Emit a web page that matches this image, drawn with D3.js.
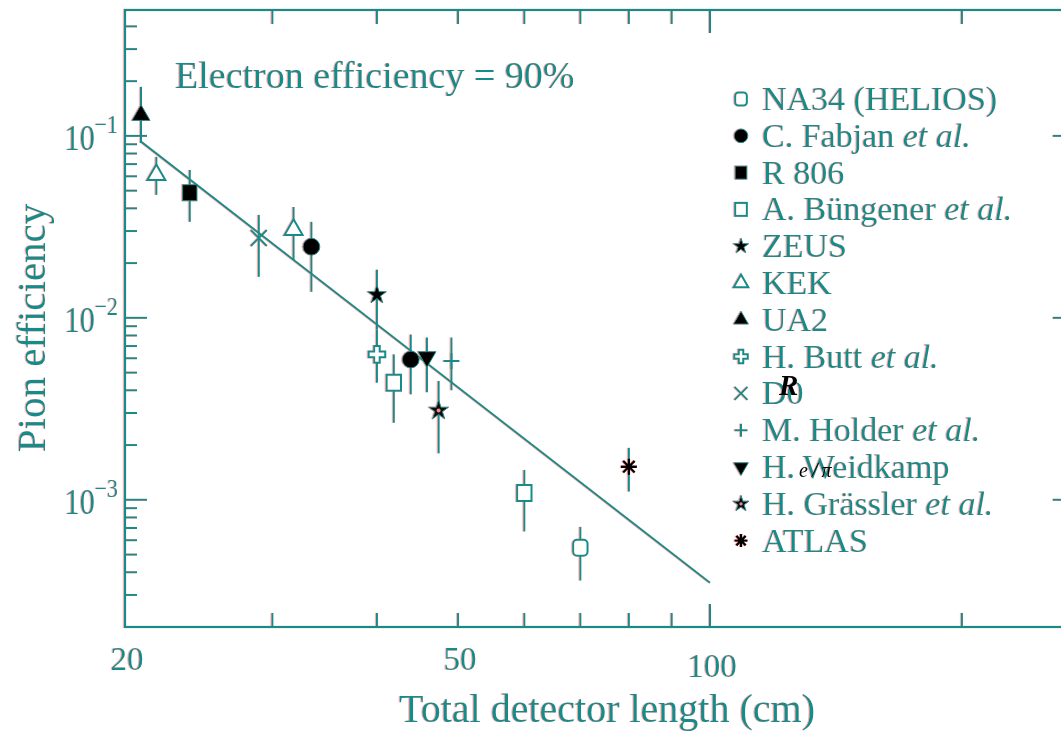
<!DOCTYPE html>
<html>
<head>
<meta charset="utf-8">
<script src="https://cdn.jsdelivr.net/npm/d3@7"></script>
<style>
  body { margin: 0; background: #fff; }
  svg { display: block; }
  text { font-family: "Liberation Serif", "DejaVu Serif", serif; }
</style>
</head>
<body>
<div id="chart"></div>
<script>
// experiments, in legend order
const experiments = ["NA34 (HELIOS)", "C. Fabjan", "R 806", "A. Büngener", "ZEUS", "KEK", "UA2",
  "H. Butt", "D0", "M. Holder", "H. Weidkamp", "H. Grässler", "ATLAS"];
const etAl = [false, true, false, true, false, false, false, true, false, true, false, true, false];

// measurements: experiment, total length (cm), pion efficiency, upper error end, lower error end
const measurements = [
  ["UA2", 20.9, 0.130, 0.186, 0.0915],
  ["KEK", 21.8, 0.0611, 0.0767, 0.0474],
  ["R 806", 23.9, 0.0487, 0.065, 0.0337],
  ["D0", 28.9, 0.0275, 0.0368, 0.0168],
  ["KEK", 31.8, 0.0305, 0.0407, 0.0208],
  ["C. Fabjan", 33.4, 0.0246, 0.0337, 0.0139],
  ["ZEUS", 40.0, 0.0134, 0.0184, 0.0086],
  ["H. Butt", 40.0, 0.0063, 0.0086, 0.0044],
  ["A. Büngener", 41.9, 0.0044, 0.0063, 0.00265],
  ["C. Fabjan", 43.9, 0.0059, 0.0081, 0.0038],
  ["H. Weidkamp", 45.9, 0.0061, 0.0078, 0.0039],
  ["H. Grässler", 47.4, 0.0031, 0.0045, 0.0018],
  ["M. Holder", 49.1, 0.0058, 0.0078, 0.0040],
  ["A. Büngener", 60.0, 0.00109, 0.00146, 0.00067],
  ["NA34 (HELIOS)", 70.0, 0.000545, 0.00071, 0.00036],
  ["ATLAS", 80.0, 0.00152, 0.00193, 0.00111]
];

// fitted line end points
const fitLine = [[20.9, 0.093], [100, 0.00035]];

const xTickMinor = [30, 40, 50, 60, 70, 80, 90, 200];
const xTickMajor = [100];
const xTickLabels = [20, 50, 100];
const yTickMajor = [-1, -2, -3];

const width = 1061, height = 733;
const teal = "#168c8a";
const frame = { left: 125, right: 1075, top: 10, bottom: 627 };

const markerType = {
  "NA34 (HELIOS)": "roundsq", "C. Fabjan": "circle", "R 806": "square", "A. Büngener": "opensq",
  "ZEUS": "star", "KEK": "opentri", "UA2": "tri", "H. Butt": "opencross", "D0": "times",
  "M. Holder": "plus", "H. Weidkamp": "tridown", "H. Grässler": "holestar", "ATLAS": "aster"
};

const svg = d3.select("#chart").append("svg")
  .attr("width", width)
  .attr("height", height);

// the reference has a red fringe on every stroke
const defs = svg.append("defs");
const f = defs.append("filter").attr("id", "fringe").attr("x", "-5%").attr("y", "-5%").attr("width", "110%").attr("height", "110%");
f.append("feOffset").attr("in", "SourceAlpha").attr("dx", -1.5).attr("dy", -0.5).attr("result", "off");
f.append("feFlood").attr("flood-color", "#ff5050").attr("flood-opacity", 0.45).attr("result", "red");
f.append("feComposite").attr("in", "red").attr("in2", "off").attr("operator", "in").attr("result", "shadow");
const fm = f.append("feMerge");
fm.append("feMergeNode").attr("in", "shadow");
fm.append("feMergeNode").attr("in", "SourceGraphic");

const root = svg.append("g").attr("filter", "url(#fringe)");

const x = d3.scaleLog().domain([20, 273]).range([frame.left, frame.right]);
const y = d3.scaleLog().domain([2.0e-4, 0.492]).range([frame.bottom, frame.top]);

// frame
root.append("rect")
  .attr("x", frame.left).attr("y", frame.top)
  .attr("width", frame.right - frame.left).attr("height", frame.bottom - frame.top)
  .attr("fill", "none").attr("stroke", teal).attr("stroke-width", 2.2);

// x ticks, bottom and top
const xt = xTickMinor.map(v => ({ v, len: 14 })).concat(xTickMajor.map(v => ({ v, len: 23 })));
xt.forEach(t => {
  root.append("line").attr("x1", x(t.v)).attr("x2", x(t.v))
    .attr("y1", frame.bottom).attr("y2", frame.bottom - t.len)
    .attr("stroke", teal).attr("stroke-width", 2);
  root.append("line").attr("x1", x(t.v)).attr("x2", x(t.v))
    .attr("y1", frame.top).attr("y2", frame.top + t.len)
    .attr("stroke", teal).attr("stroke-width", 2);
});

root.selectAll(".xlab").data(xTickLabels).enter().append("text")
  .attr("class", "xlab")
  .attr("x", d => x(d) + 2)
  .attr("y", d => d === 100 ? 677 : 670)
  .attr("text-anchor", "middle")
  .attr("fill", teal)
  .style("font-size", "33px")
  .text(d => d);

// y ticks, left and right
const yMinor = [];
for (let e = -4; e <= -1; e++) {
  for (let m = 2; m <= 9; m++) {
    const v = m * Math.pow(10, e);
    if (v > 2.0e-4 && v < 0.492) yMinor.push(v);
  }
}
yMinor.forEach(v => {
  root.append("line").attr("x1", frame.left).attr("x2", frame.left + 12)
    .attr("y1", y(v)).attr("y2", y(v)).attr("stroke", teal).attr("stroke-width", 2);
  root.append("line").attr("x1", frame.right).attr("x2", frame.right - 12)
    .attr("y1", y(v)).attr("y2", y(v)).attr("stroke", teal).attr("stroke-width", 2);
});
yTickMajor.forEach(e => {
  const v = Math.pow(10, e);
  root.append("line").attr("x1", frame.left).attr("x2", frame.left + 22)
    .attr("y1", y(v)).attr("y2", y(v)).attr("stroke", teal).attr("stroke-width", 2);
  root.append("line").attr("x1", frame.right).attr("x2", frame.right - 22)
    .attr("y1", y(v)).attr("y2", y(v)).attr("stroke", teal).attr("stroke-width", 2);
  const lab = root.append("g").attr("transform", `translate(118, ${y(v) + 14}) scale(0.84, 1)`);
  const t = lab.append("text").attr("text-anchor", "end").attr("fill", teal);
  t.append("tspan").style("font-size", "36px").text("10");
  t.append("tspan").attr("dy", -17).style("font-size", "26px").text("\u2212" + (-e));
});

// axis titles
root.append("text")
  .attr("x", 607).attr("y", 722)
  .attr("text-anchor", "middle").attr("fill", teal)
  .style("font-size", "40px")
  .text("Total detector length (cm)");

root.append("text")
  .attr("transform", "translate(45, 328) rotate(-90)")
  .attr("text-anchor", "middle").attr("fill", teal)
  .style("font-size", "41px")
  .text("Pion efficiency");

root.append("text")
  .attr("x", 175).attr("y", 88)
  .attr("fill", teal)
  .style("font-size", "38px")
  .text("Electron efficiency = 90%");

// fit line
root.append("path")
  .datum(fitLine)
  .attr("d", d3.line().x(d => x(d[0])).y(d => y(d[1])))
  .attr("fill", "none").attr("stroke", teal).attr("stroke-width", 2);

// markers
function drawMarker(g, type, s) {
  const sym = (t, area) => d3.symbol().type(t).size(area)();
  switch (type) {
    case "roundsq":
      g.append("rect").attr("x", -s * 0.9).attr("y", -s).attr("width", s * 1.8).attr("height", s * 2)
        .attr("rx", s * 0.5).attr("fill", "#fff").attr("stroke", teal).attr("stroke-width", 2);
      break;
    case "circle":
      g.append("circle").attr("r", s * 1.05).attr("fill", "#000").attr("stroke", teal).attr("stroke-width", 1);
      break;
    case "square":
      g.append("rect").attr("x", -s * 0.9).attr("y", -s).attr("width", s * 1.8).attr("height", s * 2)
        .attr("fill", "#000").attr("stroke", teal).attr("stroke-width", 1);
      break;
    case "opensq":
      g.append("rect").attr("x", -s * 0.9).attr("y", -s).attr("width", s * 1.8).attr("height", s * 2)
        .attr("fill", "#fff").attr("stroke", teal).attr("stroke-width", 2);
      break;
    case "star":
      g.append("path").attr("d", sym(d3.symbolStar, s * s * 1.7)).attr("fill", "#000").attr("stroke", teal).attr("stroke-width", 1);
      break;
    case "holestar":
      g.append("path").attr("d", sym(d3.symbolStar, s * s * 1.9)).attr("fill", "#111").attr("stroke", teal).attr("stroke-width", 1);
      g.append("circle").attr("r", s * 0.25).attr("fill", "#f08a8a");
      break;
    case "tri":
      g.append("path").attr("d", sym(d3.symbolTriangle, s * s * 2.2)).attr("fill", "#000").attr("stroke", teal).attr("stroke-width", 1);
      break;
    case "opentri":
      g.append("path").attr("d", sym(d3.symbolTriangle, s * s * 2.2)).attr("fill", "#fff").attr("stroke", teal).attr("stroke-width", 2);
      break;
    case "tridown":
      g.append("path").attr("d", sym(d3.symbolTriangle, s * s * 2.2)).attr("transform", "rotate(180)")
        .attr("fill", "#000").attr("stroke", teal).attr("stroke-width", 1);
      break;
    case "opencross":
      g.append("path").attr("d", sym(d3.symbolCross, s * s * 2.4)).attr("fill", "#fff").attr("stroke", teal).attr("stroke-width", 2);
      break;
    case "times":
      g.append("path").attr("d", `M${-s},${-s}L${s},${s}M${-s},${s}L${s},${-s}`).attr("stroke", teal).attr("stroke-width", 2);
      break;
    case "plus":
      g.append("path").attr("d", `M${-s},0L${s},0M0,${-s}L0,${s}`).attr("stroke", teal).attr("stroke-width", 2);
      break;
    case "aster": {
      const a = s * 0.72;
      g.append("path").attr("d", `M${-s},0L${s},0M0,${-s}L0,${s}M${-a},${-a}L${a},${a}M${-a},${a}L${a},${-a}`)
        .attr("stroke", "#000").attr("stroke-width", 2.4);
      break;
    }
  }
}

// error bars
root.selectAll(".err").data(measurements).enter().append("line")
  .attr("class", "err")
  .attr("x1", d => x(d[1])).attr("x2", d => x(d[1]))
  .attr("y1", d => y(d[3])).attr("y2", d => y(d[4]))
  .attr("stroke", teal).attr("stroke-width", 2);

measurements.forEach(d => {
  const g = root.append("g").attr("transform", `translate(${x(d[1])}, ${y(d[2])})`);
  drawMarker(g, markerType[d[0]], 8);
});

// legend
const legendTop = 110, legendStep = 36.8;
experiments.forEach((name, i) => {
  const yy = legendTop + i * legendStep;
  const g = root.append("g").attr("transform", `translate(741, ${yy - 11})`);
  drawMarker(g, markerType[name], 6.5);
  const t = root.append("text").attr("x", 762).attr("y", yy).attr("fill", teal).style("font-size", "34px");
  t.append("tspan").text(name);
  if (etAl[i]) t.append("tspan").style("font-style", "italic").text(" et al.");
});

// stray overlay glyphs present in the reference
svg.append("text").attr("x", 779).attr("y", 395).attr("fill", "#000")
  .style("font-size", "29px").style("font-style", "italic").style("font-weight", "bold").text("R");
svg.append("text").attr("x", 799).attr("y", 477).attr("fill", "#000")
  .style("font-size", "20px").style("font-style", "italic").text("e\u2009/\u2009\u03c0");
</script>
</body>
</html>
